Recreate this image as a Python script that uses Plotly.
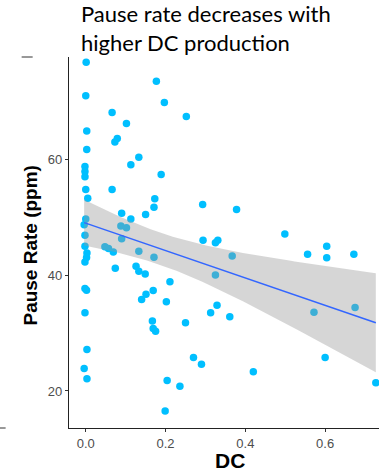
import numpy as np
import plotly.graph_objects as go

# Data
dc = [0.001, 0.0, 0.0025, 0.0025, -0.002, -0.002, -0.002, 0.0, 0.005, 0.0, -0.004,
      -0.002, -0.002, 0.003, 0.002, -0.002, -0.002, 0.002, -0.002, 0.003, -0.004, 0.003,
      0.177, 0.197, 0.066, 0.252, 0.102, 0.079, 0.073, 0.133, 0.113, 0.189, 0.066,
      0.173, 0.293, 0.171, 0.090, 0.150, 0.113, 0.088, 0.102, 0.090, 0.294, 0.325,
      0.331, 0.048, 0.057, 0.069, 0.133, 0.171, 0.074, 0.126, 0.133, 0.149, 0.211,
      0.169, 0.151, 0.140, 0.202, 0.313, 0.329, 0.167, 0.169, 0.175, 0.250, 0.270,
      0.290, 0.204, 0.236, 0.199, 0.325,
      0.378, 0.499, 0.604, 0.367, 0.556, 0.604, 0.672, 0.361, 0.572, 0.675, 0.600,
      0.420, 0.727]
pause_rate = [76.8, 71.0, 64.9, 61.7, 58.8, 57.9, 57.0, 54.8, 53.3, 49.7, 48.7,
              46.9, 45.0, 43.85, 43.06, 42.3, 37.7, 37.4, 33.5, 27.15, 23.9, 22.1,
              73.5, 69.85, 68.1, 67.4, 66.2, 63.6, 63.0, 60.4, 59.1, 57.4, 54.8,
              53.2, 52.2, 51.75, 50.7, 50.5, 49.7, 48.5, 48.2, 46.3, 46.05, 45.6,
              46.05, 44.9, 44.6, 44.0, 44.15, 43.1, 41.2, 41.55, 40.7, 40.2, 38.85,
              37.35, 36.7, 35.8, 35.4, 33.5, 34.8, 32.1, 30.8, 30.3, 31.8, 25.8,
              24.6, 21.8, 20.8, 16.55, 40.05,
              51.35, 47.1, 45.0, 43.3, 43.6, 43.0, 43.6, 32.8, 33.6, 34.4, 25.8,
              23.3, 21.4]
x_tick_vals = [0.0, 0.2, 0.4, 0.6]
x_tick_text = ["0.0", "0.2", "0.4", "0.6"]
y_tick_vals = [20, 40, 60]
y_tick_text = ["20", "40", "60"]

title_text = "Pause rate decreases with<br>higher DC production"
x_title = "DC"
y_title = "Pause Rate (ppm)"

# Linear fit with 95% confidence band (as geom_smooth(method="lm"))
x = np.array(dc)
y = np.array(pause_rate)
n = len(x)
slope, intercept = np.polyfit(x, y, 1)
resid = y - (intercept + slope * x)
s = np.sqrt(np.sum(resid ** 2) / (n - 2))
sxx = np.sum((x - x.mean()) ** 2)
t_crit = 1.987
xs = np.linspace(x.min(), x.max(), 80)
ys = intercept + slope * xs
se = s * np.sqrt(1.0 / n + (xs - x.mean()) ** 2 / sxx)
lo = ys - t_crit * se
hi = ys + t_crit * se

fig = go.Figure()
fig.add_trace(go.Scatter(x=dc, y=pause_rate, mode="markers",
                         marker=dict(color="#00BFFF", size=7.5, line=dict(width=0)),
                         showlegend=False, hoverinfo="skip"))
fig.add_trace(go.Scatter(x=xs, y=lo, mode="lines", line=dict(width=0),
                         showlegend=False, hoverinfo="skip"))
fig.add_trace(go.Scatter(x=xs, y=hi, mode="lines", line=dict(width=0),
                         fill="tonexty", fillcolor="rgba(153,153,153,0.4)",
                         showlegend=False, hoverinfo="skip"))
fig.add_trace(go.Scatter(x=xs, y=ys, mode="lines",
                         line=dict(color="#3366FF", width=1.5),
                         showlegend=False, hoverinfo="skip"))

axis_font = dict(family="Liberation Sans, Arial, sans-serif", size=13, color="#4D4D4D")
fig.update_layout(
    width=379, height=471,
    margin=dict(l=69.3, r=0, t=57, b=43, autoexpand=False),
    paper_bgcolor="white", plot_bgcolor="white",
    hovermode=False,
    xaxis=dict(range=[-0.042, 0.735], tickvals=x_tick_vals, ticktext=x_tick_text,
               showgrid=False, zeroline=False, showline=True, linecolor="#222",
               linewidth=1.1, ticks="outside", ticklen=3, tickcolor="#333",
               tickfont=axis_font, automargin=False),
    yaxis=dict(range=[13.6, 77.7], tickvals=y_tick_vals, ticktext=y_tick_text,
               showgrid=False, zeroline=False, showline=True, linecolor="#222",
               linewidth=1.1, ticks="outside", ticklen=3, tickcolor="#333",
               tickfont=axis_font, automargin=False),
    annotations=[
        dict(text=title_text, xref="paper", yref="paper", x=0.0313, y=1.160,
             xanchor="left", yanchor="top", align="left", showarrow=False,
             font=dict(family="Lato, sans-serif", size=22, color="black")),
        dict(text="<b>" + y_title + "</b>", xref="paper", yref="paper",
             x=-0.124, y=0.4906, xanchor="center", yanchor="middle",
             textangle=-90, showarrow=False,
             font=dict(family="Liberation Sans, Arial, sans-serif", size=19, color="black")),
        dict(text="<b>" + x_title + "</b>", xref="paper", yref="paper",
             x=(230 - 69.3) / 309.7, y=-32.0 / 371, xanchor="center", yanchor="middle",
             showarrow=False,
             font=dict(family="Liberation Sans, Arial, sans-serif", size=21, color="black")),
    ],
    shapes=[
        dict(type="line", xref="paper", yref="paper",
             x0=(22 - 69.3) / 309.7, x1=(33 - 69.3) / 309.7, y0=1.0, y1=1.0,
             line=dict(color="#333", width=1)),
        dict(type="line", xref="paper", yref="paper",
             x0=(0 - 69.3) / 309.7, x1=(6 - 69.3) / 309.7, y0=0.0, y1=0.0,
             line=dict(color="#333", width=1)),
    ],
)

fig.write_html(
    "out.html",
    config={"displayModeBar": False, "staticPlot": True},
    post_script="document.body.style.margin='0';document.body.style.overflow='hidden';",
)
